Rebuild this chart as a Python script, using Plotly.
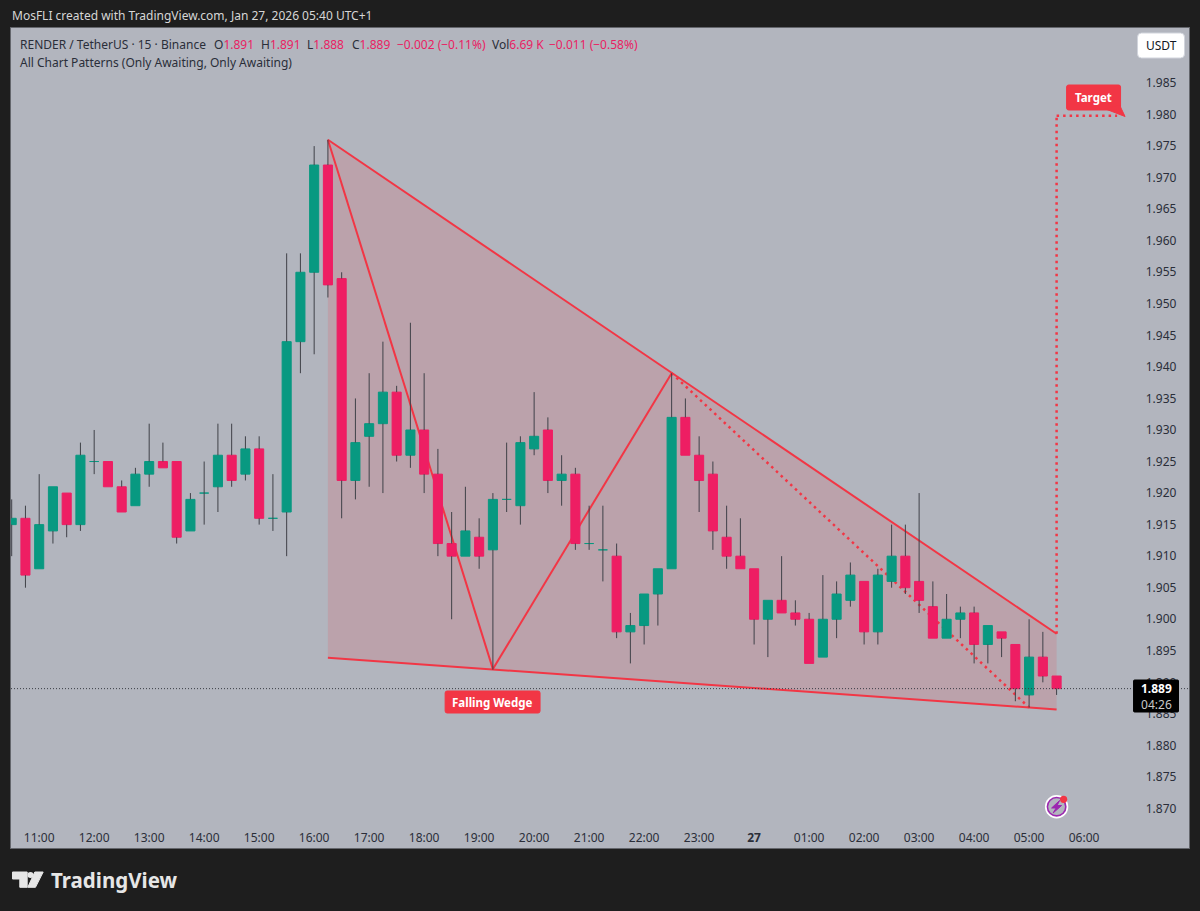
import plotly.graph_objects as go

# candles, 15 min each, first one is 10:30 on Jan 26
opens = [1.915, 1.916, 1.908, 1.914, 1.920, 1.915, 1.925, 1.925, 1.921, 1.918, 1.923, 1.925, 1.925, 1.914, 1.920, 1.921, 1.926, 1.923, 1.927, 1.916,
         1.917, 1.944, 1.955, 1.972, 1.954, 1.922, 1.929, 1.931, 1.936, 1.926, 1.930, 1.923, 1.912, 1.910, 1.913, 1.911, 1.919, 1.918, 1.927, 1.930,
         1.922, 1.923, 1.912, 1.911, 1.910, 1.898, 1.899, 1.904, 1.908, 1.932, 1.926, 1.923, 1.913, 1.910, 1.908, 1.900, 1.903, 1.901, 1.900, 1.894,
         1.900, 1.903, 1.906, 1.898, 1.906, 1.910, 1.906, 1.902, 1.897, 1.900, 1.901, 1.896, 1.898, 1.896, 1.888, 1.894, 1.891]
closes = [1.916, 1.907, 1.915, 1.921, 1.915, 1.926, 1.925, 1.921, 1.917, 1.923, 1.925, 1.924, 1.913, 1.919, 1.920, 1.926, 1.922, 1.927, 1.916, 1.916,
          1.944, 1.955, 1.972, 1.953, 1.922, 1.928, 1.931, 1.936, 1.926, 1.930, 1.923, 1.912, 1.910, 1.914, 1.910, 1.919, 1.919, 1.928, 1.929, 1.922,
          1.923, 1.912, 1.912, 1.911, 1.898, 1.899, 1.904, 1.908, 1.932, 1.926, 1.922, 1.914, 1.910, 1.908, 1.900, 1.903, 1.901, 1.900, 1.893, 1.900,
          1.904, 1.907, 1.898, 1.907, 1.910, 1.905, 1.903, 1.897, 1.900, 1.901, 1.896, 1.899, 1.897, 1.889, 1.894, 1.891, 1.889]
highs = [1.919, 1.918, 1.923, 1.921, 1.920, 1.928, 1.930, 1.925, 1.922, 1.924, 1.931, 1.928, 1.925, 1.920, 1.925, 1.931, 1.931, 1.929, 1.929, 1.923,
         1.958, 1.958, 1.975, 1.976, 1.955, 1.935, 1.939, 1.944, 1.937, 1.947, 1.939, 1.927, 1.917, 1.921, 1.916, 1.920, 1.928, 1.929, 1.936, 1.932,
         1.926, 1.924, 1.918, 1.918, 1.912, 1.901, 1.904, 1.908, 1.939, 1.935, 1.929, 1.925, 1.918, 1.916, 1.908, 1.903, 1.910, 1.903, 1.901, 1.907,
         1.906, 1.909, 1.906, 1.908, 1.915, 1.915, 1.920, 1.906, 1.904, 1.902, 1.902, 1.899, 1.898, 1.896, 1.900, 1.898, 1.891]
lows = [1.910, 1.905, 1.908, 1.912, 1.913, 1.914, 1.923, 1.921, 1.917, 1.918, 1.921, 1.924, 1.912, 1.914, 1.915, 1.917, 1.921, 1.922, 1.915, 1.914,
        1.910, 1.939, 1.942, 1.951, 1.916, 1.919, 1.921, 1.920, 1.925, 1.924, 1.920, 1.910, 1.900, 1.910, 1.908, 1.892, 1.917, 1.915, 1.926, 1.920,
        1.918, 1.911, 1.911, 1.906, 1.897, 1.893, 1.896, 1.899, 1.908, 1.926, 1.917, 1.911, 1.908, 1.908, 1.896, 1.894, 1.901, 1.899, 1.893, 1.894,
        1.897, 1.902, 1.896, 1.896, 1.905, 1.904, 1.901, 1.897, 1.897, 1.897, 1.893, 1.893, 1.894, 1.887, 1.886, 1.890, 1.888]

tick_bars = [2, 6, 10, 14, 18, 22, 26, 30, 34, 38, 42, 46, 50, 54, 58, 62, 66, 70, 74, 78]
tick_labels = ["11:00", "12:00", "13:00", "14:00", "15:00", "16:00", "17:00", "18:00", "19:00", "20:00", "21:00", "22:00", "23:00",
               "<b>27</b>", "01:00", "02:00", "03:00", "04:00", "05:00", "06:00"]
price_ticks = [1.985, 1.98, 1.975, 1.97, 1.965, 1.96, 1.955, 1.95, 1.945, 1.94, 1.935, 1.93, 1.925, 1.92, 1.915, 1.91, 1.905, 1.90, 1.895,
               1.89, 1.885, 1.88, 1.875, 1.87]

# pattern points as bar index / price
upper_bars, upper_prices = [23, 76], [1.976, 1.8977]
lower_bars, lower_prices = [23, 76], [1.8939, 1.8857]
zigzag_bars, zigzag_prices = [23, 35, 48], [1.976, 1.8921, 1.939]
dotted_bars, dotted_prices = [48, 74], [1.939, 1.886]
target_bars, target_prices = [76, 76, 80.4], [1.8977, 1.9798, 1.9798]
last_price = 1.889

PAGE = "#1e1e1e"
PANE = "#b2b5be"
UP = "#089981"
DOWN = "#ee1e63"
PATTERN = "#f23645"
WICK = "#3f4148"
TEXT = "#2a2e39"
FONT = "Noto Sans"

# plot area in page pixels
L, R, T, B = 10.5, 1189.5, 28, 848


def px(x):
    return (x - L) / (R - L)


def py(y):
    return (B - y) / (B - T)


def rounded(x0, y0, x1, y1, r):
    a, b, c, d = px(x0), px(x1), py(y0), py(y1)
    rx, ry = r / (R - L), r / (B - T)
    return (f"M{a + rx},{c} L{b - rx},{c} Q{b},{c} {b},{c - ry} L{b},{d + ry} Q{b},{d} {b - rx},{d} "
            f"L{a + rx},{d} Q{a},{d} {a},{d + ry} L{a},{c - ry} Q{a},{c} {a + rx},{c} Z")


def box(path, fill, line=None):
    return dict(type="path", xref="paper", yref="paper", path=path, fillcolor=fill, line=dict(color=line or fill, width=1), layer="above")


def label(x, y, text, size=12, color=TEXT, anchor="left"):
    return dict(xref="paper", yref="paper", x=px(x), y=py(y), text=text, showarrow=False, xanchor=anchor, yanchor="middle",
                font=dict(family=FONT, size=size, color=color), borderpad=0)


bars = list(range(len(opens)))
colors = [DOWN if c < o else UP for o, c in zip(opens, closes)]

# wicks stop at the body so the body stays clean
wick_x, wick_y = [], []
for i in bars:
    wick_x += [i, i, None, i, i, None]
    wick_y += [highs[i], max(opens[i], closes[i]), None, min(opens[i], closes[i]), lows[i], None]

fig = go.Figure()
fig.add_trace(go.Bar(x=bars, y=[abs(c - o) for o, c in zip(opens, closes)], base=[min(o, c) for o, c in zip(opens, closes)],
                     width=0.66, marker=dict(color=colors, line=dict(color=colors, width=1)), showlegend=False))
fig.add_trace(go.Scatter(x=wick_x, y=wick_y, mode="lines", line=dict(color=WICK, width=1), showlegend=False))

shapes = []
# wedge sits under the candles
wedge = (f"M{upper_bars[0]},{upper_prices[0]} L{upper_bars[1]},{upper_prices[1]} "
         f"L{lower_bars[1]},{lower_prices[1]} L{lower_bars[0]},{lower_prices[0]} Z")
shapes.append(dict(type="path", xref="x", yref="y", path=wedge, fillcolor="rgba(242,54,69,0.15)", line=dict(width=0), layer="below"))
for xs, ys, dash, w in [(upper_bars, upper_prices, "solid", 2), (lower_bars, lower_prices, "solid", 2), (zigzag_bars, zigzag_prices, "solid", 2),
                        (dotted_bars, dotted_prices, "2.5px,4px", 2.5), (target_bars, target_prices, "2.5px,4px", 2.5)]:
    for j in range(len(xs) - 1):
        shapes.append(dict(type="line", xref="x", yref="y", x0=xs[j], y0=ys[j], x1=xs[j + 1], y1=ys[j + 1],
                           line=dict(color=PATTERN, width=w, dash=dash), layer="below"))
shapes.append(dict(type="line", xref="paper", yref="y", x0=0, x1=1, y0=last_price, y1=last_price,
                   line=dict(color="#3a3d45", width=1, dash="1px,2px"), layer="above"))

# labels on the chart
shapes.append(box(rounded(445, 691, 540, 713, 2), PATTERN))
shapes.append(box(rounded(1067, 85, 1121, 110, 2), PATTERN))
shapes.append(box(f"M{px(1106)},{py(109)} L{px(1120)},{py(105)} L{px(1125.5)},{py(116.5)} Z", PATTERN))
shapes.append(box(rounded(1138, 33, 1185, 58, 4), "#ffffff", "#d1d4dc"))
shapes.append(box(rounded(1134, 680, 1179, 712, 1), "#000000"))

# bolt badge
for cx, cy, r, fill in [(1057, 806.7, 11.7, "#ffffff"), (1057, 806.7, 10, "#9c27b0"), (1057, 806.7, 8.4, PANE), (1064, 799.3, 3.6, "#f23645")]:
    shapes.append(dict(type="circle", xref="paper", yref="paper", x0=px(cx - r), x1=px(cx + r), y0=py(cy - r), y1=py(cy + r),
                       fillcolor=fill, line=dict(width=0), layer="above"))
bolt = [(1060, 800.5), (1052, 808), (1056.5, 808), (1053.5, 813), (1062, 805.5), (1057.5, 805.5)]
shapes.append(box("M" + " L".join(f"{px(x)},{py(y)}" for x, y in bolt) + " Z", "#9c27b0"))

# TradingView mark
mark = [(12, 872), (26.7, 872), (26.7, 887.3), (19.3, 887.3), (19.3, 879), (12, 879)]
slash = [(34.3, 872), (42.7, 872), (35, 887.3), (27.3, 887.3)]
for pts in (mark, slash):
    shapes.append(box("M" + " L".join(f"{px(x)},{py(y)}" for x, y in pts) + " Z", "#e6e6e6"))
shapes.append(dict(type="circle", xref="paper", yref="paper", x0=px(27), x1=px(33), y0=py(872), y1=py(878), fillcolor="#e6e6e6",
                   line=dict(width=0), layer="above"))

red_text = "#e91e63"
annotations = [
    label(10, 16, "MosFLI created with TradingView.com, Jan 27, 2026 05:40 UTC+1", 12, "#d6d6d6"),
    label(19, 44, "RENDER / TetherUS · 15 · Binance", 12),
    label(213, 44, f"O<span style='color:{red_text}'>1.891</span>", 12),
    label(260, 44, f"H<span style='color:{red_text}'>1.891</span>", 12),
    label(306, 44, f"L<span style='color:{red_text}'>1.888</span>", 12),
    label(351, 44, f"C<span style='color:{red_text}'>1.889</span>", 12),
    label(396, 44, "−0.002 (−0.11%)", 12, red_text),
    label(491, 44, f"Vol<span style='color:{red_text}'>6.69 K</span>", 12),
    label(548, 44, "−0.011 (−0.58%)", 12, red_text),
    label(19, 62, "All Chart Patterns (Only Awaiting, Only Awaiting)", 12),
    label(492.5, 702, "<b>Falling Wedge</b>", 11.5, "#ffffff", "center"),
    label(1094, 97.5, "<b>Target</b>", 11.5, "#ffffff", "center"),
    label(1161.5, 45.5, "USDT", 12, "#131722", "center"),
    label(1156.5, 696, "<b>1.889</b><br><span style='color:#c8c8c8'>04:26</span>", 12, "#ffffff", "center"),
    label(50, 880, "<b>TradingView</b>", 20.5, "#e6e6e6"),
]

fig.update_layout(
    width=1200,
    height=911,
    margin=dict(l=L, r=1200 - R, t=T, b=911 - B, pad=0),
    paper_bgcolor=PAGE,
    plot_bgcolor=PANE,
    showlegend=False,
    barmode="overlay",
    shapes=shapes,
    annotations=annotations,
    xaxis=dict(range=[-0.05, 85.63], tickmode="array", tickvals=tick_bars, ticktext=tick_labels, ticks="inside", ticklen=3,
               tickcolor="rgba(0,0,0,0)", ticklabelposition="inside", tickfont=dict(family=FONT, size=12, color=TEXT),
               showgrid=False, zeroline=False, showline=True, mirror=True, linecolor="#64666c", linewidth=1),
    yaxis=dict(range=[1.86374, 1.99372], side="right", tickmode="array", tickvals=price_ticks, ticktext=[f"{p:.3f}" for p in price_ticks],
               ticks="inside", ticklen=12, tickcolor="rgba(0,0,0,0)", ticklabelposition="inside",
               tickfont=dict(family=FONT, size=12, color=TEXT), showgrid=False, zeroline=False, showline=True, mirror=True,
               linecolor="#64666c", linewidth=1),
)

fig.write_html("out.html", config={"displayModeBar": False},
               post_script="document.body.style.margin='0';document.body.style.overflow='hidden';document.body.style.background='#1e1e1e';")
